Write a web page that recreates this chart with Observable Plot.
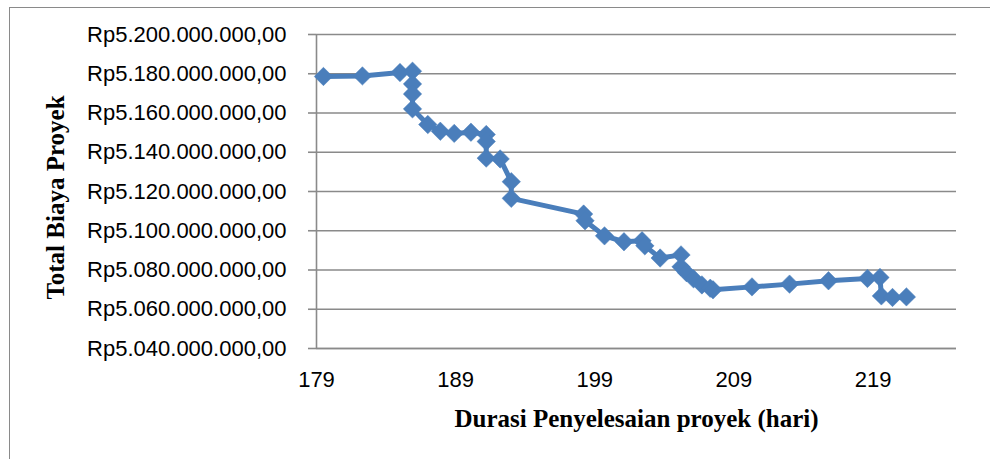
<!DOCTYPE html>
<html>
<head>
<meta charset="utf-8">
<script src="https://cdn.jsdelivr.net/npm/d3@7"></script>
<script src="https://cdn.jsdelivr.net/npm/@observablehq/plot@0.6"></script>
<style>
  html, body { margin: 0; padding: 0; background: #fff; }
  #wrap { position: relative; width: 990px; height: 459px; overflow: hidden; }
  #border { position: absolute; left: 9px; top: 7px; width: 1000px; height: 470px;
            border-left: 1.5px solid #8a8a8a; border-top: 1.5px solid #8a8a8a; pointer-events: none; }
</style>
</head>
<body>
<div id="wrap"><div id="border"></div></div>
<script>
// Durasi penyelesaian proyek (hari)
const durasi = [179.5, 182.3, 185.0, 185.9, 185.9, 185.9, 185.9, 187.0, 187.9, 188.9,
                190.1, 191.2, 191.2, 191.2, 192.2, 193.0, 193.0, 198.2, 198.3, 199.7,
                201.1, 202.4, 202.6, 203.7, 205.2, 205.2, 205.6, 206.1, 206.7, 207.3,
                207.5, 210.3, 213.0, 215.8, 218.6, 219.5, 219.6, 220.4, 221.4];
// Total biaya proyek (Rp)
const biaya = [5178600000, 5178900000, 5180600000, 5181300000, 5174800000, 5169700000, 5162100000, 5154100000, 5150700000, 5149600000,
               5150200000, 5149000000, 5145500000, 5137000000, 5136600000, 5125000000, 5116500000, 5108500000, 5105100000, 5097400000,
               5094400000, 5094900000, 5092300000, 5086100000, 5087700000, 5081600000, 5078600000, 5075500000, 5072400000, 5070700000,
               5069900000, 5071400000, 5072800000, 5074500000, 5075700000, 5076200000, 5066800000, 5066000000, 5066300000];
const xTicks = [179, 189, 199, 209, 219];
const yTicks = [5040000000, 5060000000, 5080000000, 5100000000, 5120000000, 5140000000, 5160000000, 5180000000, 5200000000];
const xTitle = "Durasi Penyelesaian proyek (hari)";
const yTitle = "Total Biaya Proyek";

const data = durasi.map((d, i) => ({durasi: d, biaya: biaya[i]}));
const fmt = d3.formatLocale({decimal: ",", thousands: ".", grouping: [3], currency: ["Rp", ""]}).format("$,.2f");
const grid = "#8a8a8a";
const blue = "#4a7ebb";
const serif = "'Liberation Serif', 'Times New Roman', serif";

const chart = Plot.plot({
  width: 990,
  height: 459,
  marginLeft: 316,
  marginRight: 34,
  marginTop: 34,
  marginBottom: 111,
  style: {fontFamily: "'Liberation Sans', Arial, sans-serif", fontSize: "22px", color: "#000", background: "transparent", overflow: "visible"},
  x: {domain: [179, 225]},
  y: {domain: [5040000000, 5200000000]},
  marks: [
    Plot.gridY(yTicks, {stroke: grid, strokeOpacity: 1, strokeWidth: 1.6}),
    Plot.axisY({ticks: yTicks, tickSize: 8, tickPadding: 22, tickFormat: fmt, stroke: grid, strokeWidth: 1.6, fill: "#000", label: null}),
    Plot.axisX({ticks: xTicks, tickSize: 0, tickPadding: 23, fill: "#000", label: null}),
    Plot.ruleX([179], {stroke: grid, strokeWidth: 1.6}),
    Plot.ruleY([5040000000], {stroke: grid, strokeWidth: 1.6}),
    Plot.line(data, {x: "durasi", y: "biaya", stroke: blue, strokeWidth: 5, strokeLinejoin: "round"}),
    Plot.dot(data, {x: "durasi", y: "biaya", symbol: "diamond2", r: 8.3, fill: blue, stroke: blue, strokeWidth: 0.5}),
    Plot.text([xTitle], {frameAnchor: "bottom", dy: 70, lineAnchor: "middle", textAnchor: "middle", fontFamily: serif, fontWeight: "bold", fontSize: 25, fill: "#000"}),
    Plot.text([yTitle], {frameAnchor: "left", dx: -261, dy: 6, rotate: -90, lineAnchor: "middle", textAnchor: "middle", fontFamily: serif, fontWeight: "bold", fontSize: 25, fill: "#000"})
  ]
});
document.getElementById("wrap").prepend(chart);
</script>
</body>
</html>
